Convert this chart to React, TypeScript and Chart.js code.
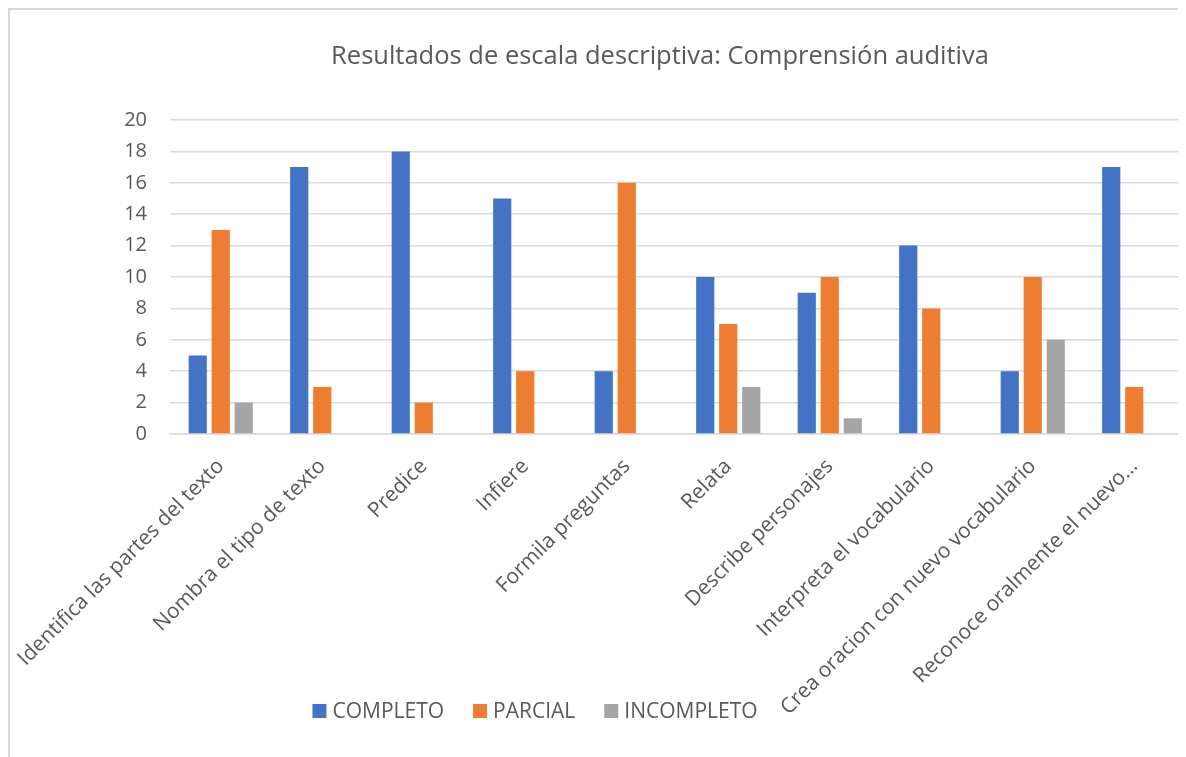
import { useEffect, useRef } from "react";
import { Chart, registerables } from "chart.js";

Chart.register(...registerables);

const chartTitle = "Resultados de escala descriptiva: Comprensión auditiva";
const categories = [
  "Identifica las partes del texto",
  "Nombra el tipo de texto",
  "Predice",
  "Infiere",
  "Formila preguntas",
  "Relata",
  "Describe personajes",
  "Interpreta el vocabulario",
  "Crea oracion con nuevo vocabulario",
  "Reconoce oralmente el nuevo…",
];
const completo = [5, 17, 18, 15, 4, 10, 9, 12, 4, 17];
const parcial = [13, 3, 2, 4, 16, 7, 10, 8, 10, 3];
const incompleto = [2, 0, 0, 0, 0, 3, 1, 0, 6, 0];
const seriesNames = ["COMPLETO", "PARCIAL", "INCOMPLETO"];
const seriesColors = ["#4472C4", "#ED7D31", "#A5A5A5"];
const yMin = 0;
const yMax = 20;
const yStep = 2;

const TEXT = "#595959";
const GRID = "#D9D9D9";
const FONT = '"Open Sans", "Noto Sans", sans-serif';

const overlay = {
  id: "overlay",
  afterDraw(chart: any) {
    const ctx = chart.ctx as CanvasRenderingContext2D;
    ctx.save();
    ctx.fillStyle = TEXT;
    ctx.textBaseline = "middle";
    ctx.textAlign = "center";
    ctx.font = `25.5px ${FONT}`;
    ctx.fillText(chartTitle, 650, 47);

    ctx.font = `21px ${FONT}`;
    ctx.textAlign = "left";
    const box = 14;
    const gapBT = 6;
    const gapItems = 29;
    const widths = seriesNames.map((n) => ctx.measureText(n).width);
    const total =
      widths.reduce((a, w) => a + box + gapBT + w, 0) + gapItems * (seriesNames.length - 1);
    let x = 525 - total / 2;
    const y = 701;
    seriesNames.forEach((n, i) => {
      ctx.fillStyle = seriesColors[i];
      ctx.fillRect(x, y - box / 2, box, box);
      ctx.fillStyle = TEXT;
      ctx.fillText(n, x + box + gapBT, y + 1);
      x += box + gapBT + widths[i] + gapItems;
    });
    ctx.restore();
  },
};

export default function App() {
  const ref = useRef<HTMLCanvasElement | null>(null);

  useEffect(() => {
    document.documentElement.style.overflow = "hidden";
    const canvas = ref.current;
    if (!canvas) return;
    const values = [completo, parcial, incompleto];
    const chart = new Chart(canvas, {
      type: "bar",
      data: {
        labels: categories,
        datasets: seriesNames.map((name, i) => ({
          label: name,
          data: values[i],
          backgroundColor: seriesColors[i],
          borderWidth: 0,
          categoryPercentage: 0.68,
          barPercentage: 0.79,
        })),
      },
      options: {
        responsive: false,
        animation: false,
        events: [],
        layout: { padding: { left: 0, top: 110, right: 0, bottom: 0 } },
        plugins: {
          legend: { display: false },
          title: { display: false },
          tooltip: { enabled: false },
        },
        scales: {
          x: {
            grid: { display: false },
            border: { display: true, color: GRID, width: 1.5 },
            ticks: {
              color: TEXT,
              font: { family: FONT, size: 21 },
              minRotation: 45,
              maxRotation: 45,
              autoSkip: false,
              padding: 12,
              labelOffset: 0,
            },
            afterFit(scale: any) {
              scale.height = 332;
              scale.paddingLeft = 0;
              scale.paddingRight = 0;
            },
          },
          y: {
            min: yMin,
            max: yMax,
            grid: { color: GRID, lineWidth: 1.5, drawTicks: false },
            border: { display: false },
            ticks: {
              stepSize: yStep,
              color: TEXT,
              font: { family: FONT, size: 20 },
              padding: 23,
            },
            afterFit(scale: any) {
              scale.width = 160;
              scale.paddingTop = 0;
              scale.paddingBottom = 0;
            },
          },
        },
      },
      plugins: [overlay],
    });
    return () => chart.destroy();
  }, []);

  return (
    <div
      style={{
        width: 1179,
        height: 760,
        border: "2px solid #D9D9D9",
        boxSizing: "border-box",
        background: "#fff",
      }}
    >
      <canvas ref={ref} width={1175} height={756} style={{ display: "block" }} />
    </div>
  );
}
